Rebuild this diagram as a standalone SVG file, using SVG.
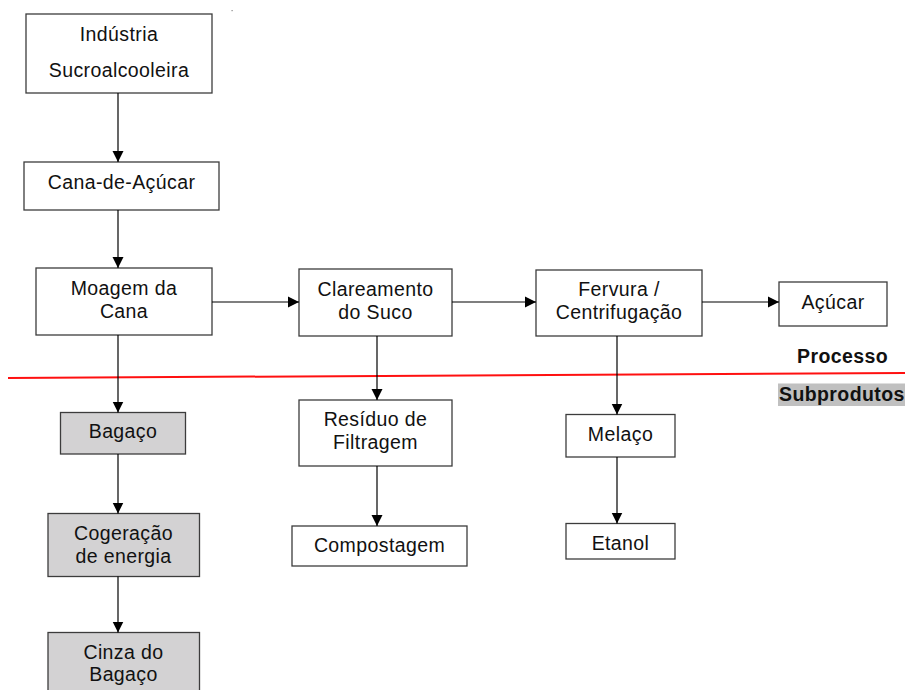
<svg xmlns="http://www.w3.org/2000/svg" width="905" height="690" viewBox="0 0 905 690">
<style>
.box{fill:#fff;stroke:#3c3c3c;stroke-width:1.3}
.gray{fill:#d3d2d3;stroke:#3c3c3c;stroke-width:1.3}
text{font-family:"Liberation Sans",Arial,sans-serif;font-size:19.5px;letter-spacing:0.4px;fill:#111;text-anchor:middle}
.b{font-weight:bold;text-anchor:start}
.conn line{stroke:#000;stroke-width:1.2;marker-end:url(#ah)}
</style>
<defs>
<marker id="ah" markerUnits="userSpaceOnUse" markerWidth="12" markerHeight="12" viewBox="0 0 12 12" refX="11" refY="6" orient="auto">
<path d="M0,0.5 L11,6 L0,11.5 Z" fill="#000"/>
</marker>
</defs>
<rect x="0" y="0" width="905" height="690" fill="#fff"/>
<rect x="231.5" y="10" width="1.2" height="1.2" fill="#888"/>

<g id="n-industria"><rect class="box" x="26" y="14" width="186" height="79"/><text x="119" y="41">Indústria</text><text x="119" y="77">Sucroalcooleira</text></g>
<g id="n-cana"><rect class="box" x="24" y="162" width="195" height="48"/><text x="121.5" y="189">Cana-de-Açúcar</text></g>
<g id="n-moagem"><rect class="box" x="36" y="268" width="176" height="67"/><text x="124" y="295">Moagem da</text><text x="124" y="318">Cana</text></g>
<g id="n-clareamento"><rect class="box" x="299" y="269" width="153" height="67"/><text x="375.5" y="295.5">Clareamento</text><text x="375.5" y="318.5">do Suco</text></g>
<g id="n-fervura"><rect class="box" x="536" y="270" width="166" height="66"/><text x="619" y="295.5">Fervura /</text><text x="619" y="318.5">Centrifugação</text></g>
<g id="n-acucar"><rect class="box" x="779" y="282" width="108" height="44"/><text x="833" y="309">Açúcar</text></g>
<g id="n-bagaco"><rect class="gray" x="60.5" y="412.5" width="125" height="41.5"/><text x="123" y="438">Bagaço</text></g>
<g id="n-residuo"><rect class="box" x="299" y="400" width="153" height="66"/><text x="375.5" y="426">Resíduo de</text><text x="375.5" y="448.5">Filtragem</text></g>
<g id="n-melaco"><rect class="box" x="566" y="414.5" width="109" height="42.5"/><text x="620.5" y="441">Melaço</text></g>
<g id="n-cogeracao"><rect class="gray" x="48" y="513.5" width="151.5" height="63"/><text x="123.5" y="540">Cogeração</text><text x="123.5" y="563">de energia</text></g>
<g id="n-cinza"><rect class="gray" x="48" y="632.5" width="151.5" height="70"/><text x="123.5" y="658.5">Cinza do</text><text x="123.5" y="681">Bagaço</text></g>
<g id="n-compostagem"><rect class="box" x="292" y="526" width="175" height="40"/><text x="379.5" y="552">Compostagem</text></g>
<g id="n-etanol"><rect class="box" x="566" y="523.5" width="109" height="35.5"/><text x="620.5" y="550">Etanol</text></g>

<g id="labels">
<line x1="8" y1="378" x2="905" y2="373" stroke="#ff1010" stroke-width="2"/>
<text class="b" x="797" y="363">Processo</text>
<rect x="778" y="383.5" width="127" height="22.5" fill="#c0c0c0"/>
<text class="b" x="779" y="401">Subprodutos</text>
</g>

<g class="conn" id="connectors">
<line x1="118" y1="93" x2="118" y2="162"/>
<line x1="118" y1="210" x2="118" y2="268"/>
<line x1="212" y1="302" x2="299" y2="302"/>
<line x1="452" y1="302" x2="536" y2="302"/>
<line x1="702" y1="302" x2="779" y2="302"/>
<line x1="118" y1="335" x2="118" y2="412.5"/>
<line x1="377" y1="336" x2="377" y2="400"/>
<line x1="617" y1="336" x2="617" y2="414.5"/>
<line x1="118" y1="454" x2="118" y2="513.5"/>
<line x1="118" y1="576.5" x2="118" y2="632.5"/>
<line x1="377" y1="466" x2="377" y2="526"/>
<line x1="617" y1="457" x2="617" y2="523.5"/>
</g>
</svg>
